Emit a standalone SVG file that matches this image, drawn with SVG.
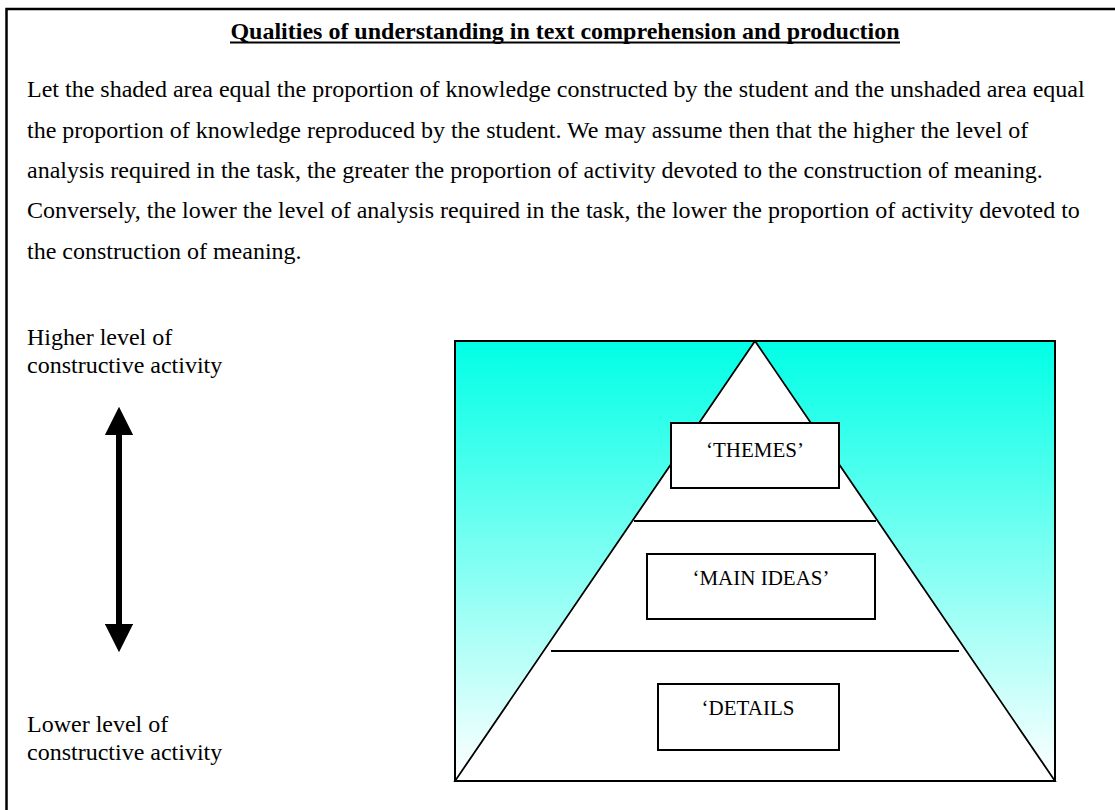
<svg xmlns="http://www.w3.org/2000/svg" width="1115" height="810" viewBox="0 0 1115 810">
  <defs>
    <linearGradient id="shade" x1="0" y1="0" x2="0" y2="1">
      <stop offset="0" stop-color="#00FFE6"/>
      <stop offset="1" stop-color="#FFFFFF"/>
    </linearGradient>
    <marker id="head" viewBox="0 0 10 10" refX="0" refY="5" markerWidth="4.7" markerHeight="4.7" orient="auto-start-reverse" markerUnits="strokeWidth">
      <path d="M0,0 L10,5 L0,10 Z" fill="#000"/>
    </marker>
  </defs>
  <style>
    text { font-family: "Liberation Serif", "Times New Roman", serif; fill: #000; }
    .title { font-size: 24px; font-weight: bold; }
    .body { font-size: 24px; }
    .lbl { font-size: 24px; }
    .node { font-size: 21px; }
    .box { fill: #fff; stroke: #000; stroke-width: 2; }
    .rule { stroke: #000; stroke-width: 2; fill: none; }
  </style>
  <rect width="1115" height="810" fill="#fff"/>
  <path d="M6.5,810 V9 H1115" fill="none" stroke="#000" stroke-width="2.5"/>

  <g id="heading">
    <text class="title" x="565" y="39" text-anchor="middle">Qualities of understanding in text comprehension and production</text>
    <line x1="230" y1="42.5" x2="900" y2="42.5" stroke="#000" stroke-width="2"/>
  </g>
  <g id="paragraph">
    <text class="body" x="27" y="97">Let the shaded area equal the proportion of knowledge constructed by the student and the unshaded area equal</text>
    <text class="body" x="27" y="138">the proportion of knowledge reproduced by the student. We may assume then that the higher the level of</text>
    <text class="body" x="27" y="178">analysis required in the task, the greater the proportion of activity devoted to the construction of meaning.</text>
    <text class="body" x="27" y="218">Conversely, the lower the level of analysis required in the task, the lower the proportion of activity devoted to</text>
    <text class="body" x="27" y="259">the construction of meaning.</text>
  </g>

  <g id="label-higher">
    <text class="lbl" x="27" y="345">Higher level of</text>
    <text class="lbl" x="27" y="373">constructive activity</text>
  </g>
  <g id="label-lower">
    <text class="lbl" x="27" y="732">Lower level of</text>
    <text class="lbl" x="27" y="760">constructive activity</text>
  </g>

  <g id="pyramid">
    <rect x="455" y="341" width="600" height="440" fill="url(#shade)" stroke="#000" stroke-width="2"/>
    <polygon points="755,341 455,781 1055,781" fill="#fff" stroke="#000" stroke-width="1.8" stroke-linejoin="miter"/>
  </g>

  <g id="connectors">
    <line x1="119" y1="435" x2="119" y2="624" stroke="#000" stroke-width="6" marker-start="url(#head)" marker-end="url(#head)"/>
    <line class="rule" x1="634" y1="521" x2="876" y2="521"/>
    <line class="rule" x1="551" y1="651" x2="959" y2="651"/>
  </g>

  <g id="node-themes">
    <rect class="box" x="671" y="423" width="168" height="65"/>
    <text class="node" x="755" y="457" text-anchor="middle">‘THEMES’</text>
  </g>
  <g id="node-main-ideas">
    <rect class="box" x="647" y="554" width="228" height="65"/>
    <text class="node" x="761" y="585" text-anchor="middle">‘MAIN IDEAS’</text>
  </g>
  <g id="node-details">
    <rect class="box" x="658" y="684" width="181" height="66"/>
    <text class="node" x="748" y="715" text-anchor="middle">‘DETAILS</text>
  </g>
</svg>
